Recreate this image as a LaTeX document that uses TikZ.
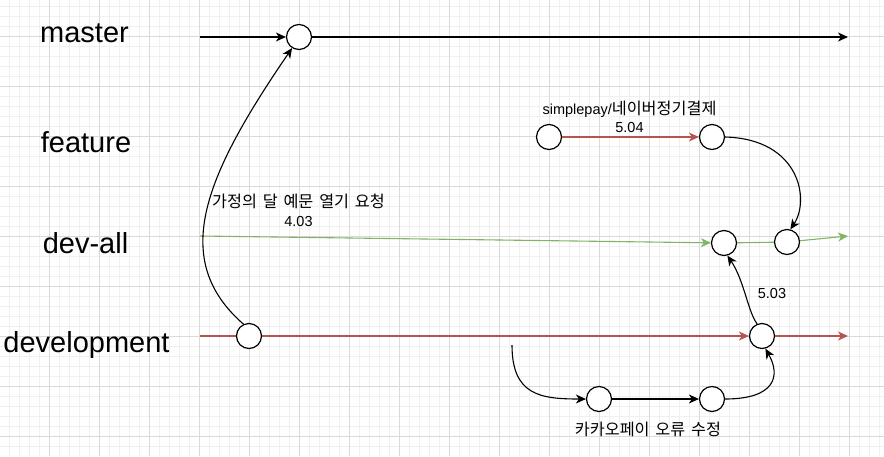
\documentclass[tikz,border=0pt]{standalone}
\usepackage{fontspec}
\setmainfont{Liberation Sans}
\newfontfamily\kr[Scale=1.12,WordSpace=1.6]{Noto Sans CJK KR}
\usetikzlibrary{arrows.meta}
\definecolor{redl}{HTML}{B85450}
\definecolor{greenl}{HTML}{82B366}
\definecolor{gminor}{HTML}{F0F0F0}
\definecolor{gmajor}{HTML}{DADADA}
\begin{document}
\begin{tikzpicture}[x=1pt,y=-1pt,
  commit/.style={circle,draw,line width=1.2pt,fill=white,minimum size=25pt,inner sep=0pt},
  tipx/.style={-{Stealth[length=10pt,width=9pt,inset=3pt]}},
  blk/.style={draw=black,line width=1.1pt},
  redln/.style={draw=redl,line width=1.1pt},
  grnln/.style={draw=greenl,line width=1.1pt},
  branch/.style={font=\fontsize{29}{32}\selectfont,anchor=base,inner sep=0pt},
  lbl/.style={font=\fontsize{14.5}{19}\selectfont,anchor=base,inner sep=0pt}]
\useasboundingbox (0,0) rectangle (884,456);
\fill[white] (0,0) rectangle (884,456);
\foreach \x in {9,19,...,879} \draw[gminor,line width=0.8pt] (\x,0) -- (\x,456);
\foreach \y in {6,16,...,446} \draw[gminor,line width=0.8pt] (0,\y) -- (884,\y);
\foreach \x in {49,99,...,849} \draw[gmajor,line width=0.8pt] (\x,0) -- (\x,456);
\foreach \y in {36,86,...,436} \draw[gmajor,line width=0.8pt] (0,\y) -- (884,\y);

% branch labels
\node[branch] (lmaster) at (84.5,42) {master};
\node[branch] (lfeature) at (86,152) {feature};
\node[branch] (ldevall) at (85.5,253) {dev-all};
\node[branch] (ldev) at (86.5,352) {development};

% commits
\node[commit] (M) at (299,37) {};
\node[commit] (D1) at (249,336) {};
\node[commit] (D2) at (762,336) {};
\node[commit] (F1) at (549,137) {};
\node[commit] (F2) at (712,137) {};
\node[commit] (DA1) at (724,243) {};
\node[commit] (DA2) at (787,242) {};
\node[commit] (K1) at (599,399) {};
\node[commit] (K2) at (712,399) {};

% free ends
\coordinate (ms) at (200,37);
\coordinate (me) at (848,37);
\coordinate (gs) at (200,236);
\coordinate (ge) at (848,236);
\coordinate (rs) at (200,336);
\coordinate (re) at (848,336);
\coordinate (ks) at (512,345);

% master
\draw[blk,tipx] (ms) -- (M);
\draw[blk,tipx] (M) -- (me);
% dev-all (green)
\draw[grnln,tipx] (gs) -- (DA1);
\draw[grnln] (DA1) -- (DA2);
\draw[grnln,tipx] (DA2) -- (ge);
% development (red)
\draw[redln] (rs) -- (D1);
\draw[redln,tipx] (D1) -- (D2);
\draw[redln,tipx] (D2) -- (re);
% feature
\draw[redln,tipx] (F1) -- (F2);

% curves
\draw[blk,tipx] (D1.115) .. controls (170,260) and (203,178) .. (M.238);
\draw[blk,tipx] (F2.east) .. controls (800,139) and (810,200) .. (DA2.75);
\draw[blk,tipx] (D2.112) .. controls (748,312) and (744,280) .. (DA1.285);
\draw[blk,tipx] (ks) .. controls (512,395) and (540,399) .. (K1.west);
\draw[blk,tipx] (K1) -- (K2);
\draw[blk,tipx] (K2.east) .. controls (775,399) and (781,376) .. (D2.285);

% labels
\node[lbl] (t1a) at (298.5,207) {\kr 가정의 달 예문 열기 요청};
\node[lbl] (t1b) at (298.5,226) {4.03};
\node[lbl] (t2a) at (629.5,114) {simplepay/{\kr 네이버정기결제}};
\node[lbl] (t2b) at (629.5,132) {5.04};
\node[lbl] (t3) at (772,298) {5.03};
\node[lbl] (t4) at (648,435) {\kr 카카오페이 오류 수정};
\end{tikzpicture}
\end{document}
